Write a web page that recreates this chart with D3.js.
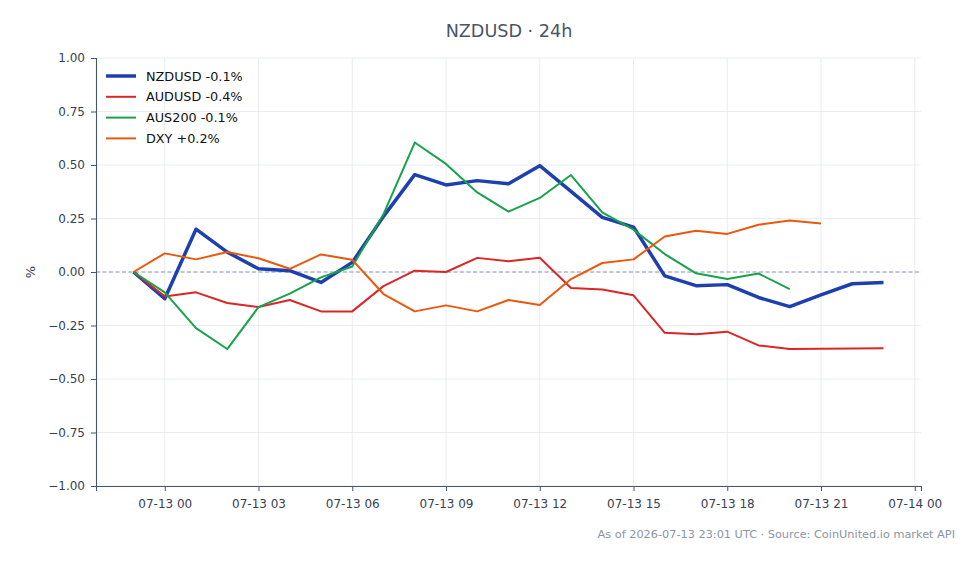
<!DOCTYPE html>
<html>
<head>
<meta charset="utf-8">
<script src="https://cdn.jsdelivr.net/npm/d3@7"></script>
<style>
  body { margin: 0; background: #fff; }
  svg { font-family: "DejaVu Sans", sans-serif; display: block; }
</style>
</head>
<body>
<div id="chart-area"></div>
<script>
// hourly % change, 07-12 23:00 -> 07-13 23:00 UTC
const startHour = '2026-07-12T23:00:00Z'

const nzdusd = [0, -0.125, 0.20, 0.093, 0.015, 0.006, -0.049, 0.045, 0.26, 0.455, 0.407,
                0.427, 0.412, 0.497, 0.377, 0.255, 0.21, -0.018, -0.064, -0.059, -0.119,
                -0.162, -0.107, -0.055, -0.049]
const audusd = [0, -0.114, -0.095, -0.145, -0.164, -0.131, -0.184, -0.184, -0.066, 0.006, 0.0,
                0.066, 0.05, 0.067, -0.075, -0.082, -0.109, -0.284, -0.291, -0.279, -0.343,
                -0.36, -0.359, -0.358, -0.356]
const aus200 = [0, -0.095, -0.262, -0.36, -0.164, -0.101, -0.025, 0.026, 0.27, 0.605, 0.505,
                0.372, 0.282, 0.346, 0.453, 0.279, 0.198, 0.084, -0.006, -0.033, -0.007,
                -0.08]
const dxy    = [0, 0.087, 0.059, 0.093, 0.064, 0.015, 0.082, 0.057, -0.103, -0.184, -0.156,
                -0.184, -0.131, -0.154, -0.033, 0.042, 0.059, 0.166, 0.193, 0.178, 0.221,
                0.241, 0.227]

const seriesNames = ['NZDUSD -0.1%', 'AUDUSD -0.4%', 'AUS200 -0.1%', 'DXY +0.2%']
const seriesColors = ['#1e40af', '#dc2626', '#16a34a', '#ea580c']
const seriesWidths = [3.5, 2, 2, 2]
const yTicks = [-1, -0.75, -0.5, -0.25, 0, 0.25, 0.5, 0.75, 1]

const W = 978, H = 564
const margin = { top: 58, right: 57, bottom: 78, left: 96 }

const svg = d3.select('#chart-area')
              .append('svg')
              .attr('width', W)
              .attr('height', H)

const t0 = new Date(startHour)
const hour = 3600 * 1000
const toPoints = arr => arr.map((v, i) => ({ t: new Date(t0.getTime() + i * hour), v: v }))
const allSeries = [nzdusd, audusd, aus200, dxy].map(toPoints)

// 5% padding on each side of the 24h span
const pad = 1.2 * hour
const x = d3.scaleUtc()
            .domain([new Date(t0.getTime() - pad), new Date(t0.getTime() + 24 * hour + pad)])
            .range([margin.left, W - margin.right])

const y = d3.scaleLinear()
            .domain([-1, 1])
            .range([H - margin.bottom, margin.top])

const xTicks = d3.range(0, 9).map(i => new Date(t0.getTime() + hour + i * 3 * hour))
const fmt = d3.utcFormat('%m-%d %H')

// GRID
const grid = svg.append('g')
grid.selectAll('.gy').data(yTicks).enter()
    .append('line')
    .attr('x1', margin.left).attr('x2', W - margin.right)
    .attr('y1', d => y(d)).attr('y2', d => y(d))
    .attr('stroke', '#e5e7eb').attr('stroke-width', 0.8)
grid.selectAll('.gx').data(xTicks).enter()
    .append('line')
    .attr('x1', d => x(d)).attr('x2', d => x(d))
    .attr('y1', margin.top).attr('y2', H - margin.bottom)
    .attr('stroke', '#e5e7eb').attr('stroke-width', 0.8)

// ZERO LINE
svg.append('line')
   .attr('x1', margin.left).attr('x2', W - margin.right)
   .attr('y1', y(0)).attr('y2', y(0))
   .attr('stroke', '#8a9bbd').attr('stroke-width', 1)
   .attr('stroke-dasharray', '4,2.5')

// AXES
const xAxis = svg.append('g')
   .attr('transform', `translate(0,${H - margin.bottom})`)
   .call(d3.axisBottom(x).tickValues(xTicks).tickFormat(fmt).tickSize(5).tickPadding(8))
const yAxis = svg.append('g')
   .attr('transform', `translate(${margin.left},0)`)
   .call(d3.axisLeft(y).tickValues(yTicks).tickFormat(d => d.toFixed(2).replace('-', '\u2212')).tickSize(5).tickPadding(6))

;[xAxis, yAxis].forEach(a => {
    a.select('.domain').attr('stroke', '#475569').attr('stroke-width', 1.1)
    a.selectAll('.tick line').attr('stroke', '#475569')
    a.selectAll('.tick text').attr('fill', '#374151').attr('font-size', 12)
       .attr('font-family', '"DejaVu Sans", sans-serif')
})

// LINES
const line = d3.line().x(d => x(d.t)).y(d => y(d.v))
svg.selectAll('.series').data(allSeries).enter()
   .append('path')
   .attr('d', line)
   .attr('fill', 'none')
   .attr('stroke', (d, i) => seriesColors[i])
   .attr('stroke-width', (d, i) => seriesWidths[i])
   .attr('stroke-linejoin', 'round')

// LEGEND
const legend = svg.append('g').attr('transform', 'translate(106,76)')
seriesNames.forEach((name, i) => {
    const row = legend.append('g').attr('transform', `translate(0,${i * 20.8})`)
    row.append('line')
       .attr('x1', 0).attr('x2', 30)
       .attr('stroke', seriesColors[i])
       .attr('stroke-width', seriesWidths[i])
    row.append('text')
       .attr('x', 40).attr('y', 4.5)
       .attr('font-size', 12.8)
       .attr('fill', '#111')
       .text(name)
})

// TITLE, LABELS
svg.append('text')
   .attr('x', 509).attr('y', 37)
   .attr('text-anchor', 'middle')
   .attr('font-size', 17.6)
   .attr('fill', '#4b5563')
   .text('NZDUSD \u00b7 24h')

svg.append('text')
   .attr('transform', `translate(35,${y(0)}) rotate(-90)`)
   .attr('text-anchor', 'middle')
   .attr('font-size', 13)
   .attr('fill', '#374151')
   .text('%')

svg.append('text')
   .attr('x', 955).attr('y', 538)
   .attr('text-anchor', 'end')
   .attr('font-size', 11.3)
   .attr('fill', '#8b95a5')
   .text('As of 2026-07-13 23:01 UTC \u00b7 Source: CoinUnited.io market API')
</script>
</body>
</html>
